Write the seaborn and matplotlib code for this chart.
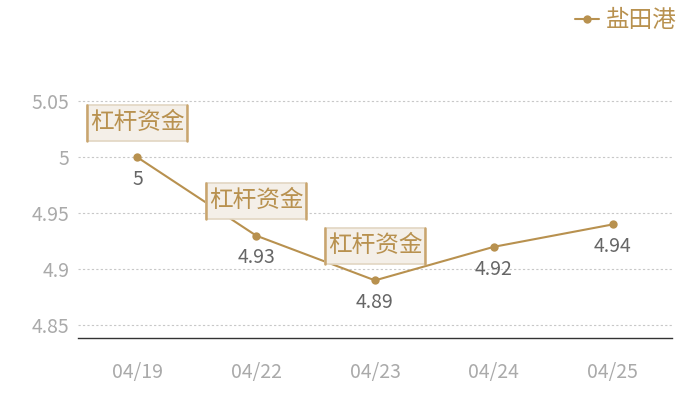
import matplotlib
matplotlib.use("Agg")
import matplotlib.pyplot as plt
import seaborn as sns
import pandas as pd

dates = ["04/19", "04/22", "04/23", "04/24", "04/25"]
values = [5.0, 4.93, 4.89, 4.92, 4.94]
value_labels = ["5", "4.93", "4.89", "4.92", "4.94"]
tag_dates = ["04/19", "04/22", "04/23"]
tag_text = "杠杆资金"
series_name = "盐田港"

gold = "#b8914f"

sns.set_style("white")
plt.rcParams["font.family"] = ["Noto Sans CJK SC", "DejaVu Sans"]

df = pd.DataFrame({"date": dates, "value": values})

fig = plt.figure(figsize=(7, 4), dpi=100)
ax = fig.add_axes([78 / 700, 62 / 400, 594 / 700, 278 / 400])

sns.lineplot(data=df, x="date", y="value", ax=ax, color=gold, linewidth=1.5,
             marker="o", markersize=6, markeredgewidth=0, label=series_name,
             sort=False)

ax.set_xlim(-0.5, len(dates) - 0.5)
ax.set_ylim(4.8385, 5.087)
ax.set_yticks([4.85, 4.9, 4.95, 5.0, 5.05])
ax.set_yticklabels(["4.85", "4.9", "4.95", "5", "5.05"])
ax.yaxis.grid(True, linestyle=(0, (2, 2)), color="#c8c8c8", linewidth=0.8)
ax.xaxis.grid(False)
for s in ["top", "right", "left"]:
    ax.spines[s].set_visible(False)
ax.spines["bottom"].set_color("#333333")
ax.spines["bottom"].set_linewidth(1)
ax.tick_params(axis="both", length=0, labelsize=14, colors="#aaaaaa")
ax.tick_params(axis="y", pad=6)
ax.tick_params(axis="x", pad=17)
ax.set_xlabel("")
ax.set_ylabel("")

for i, (v, lab) in enumerate(zip(values, value_labels)):
    ax.annotate(lab, (i, v), xytext=(0, -16), textcoords="offset points",
                ha="center", va="center", fontsize=14, color="#666666")

tags = []
for d in tag_dates:
    i = dates.index(d)
    t = ax.annotate(tag_text, (i, values[i]), xytext=(0, 25), textcoords="offset points",
                    ha="center", va="center", fontsize=17, color=gold, zorder=5)
    tags.append(t)

leg = ax.legend(loc="upper right", bbox_to_anchor=(686 / 700, 400 / 400),
                bbox_transform=fig.transFigure, frameon=False, fontsize=17,
                handlelength=1.0, handletextpad=0.3, borderaxespad=0)
for t in leg.get_texts():
    t.set_color(gold)

# tag boxes: light fill, pale top/bottom, darker sides
fig.canvas.draw()
inv = fig.transFigure.inverted()
for t in tags:
    bb = t.get_window_extent()
    cx, cy = (bb.x0 + bb.x1) / 2, (bb.y0 + bb.y1) / 2
    (x0, y0), (x1, y1) = inv.transform([(cx - 50, cy - 18), (cx + 50, cy + 18)])
    fig.add_artist(plt.Rectangle((x0, y0), x1 - x0, y1 - y0, transform=fig.transFigure,
                                 facecolor="#f4efe8", edgecolor="#e2d6c2",
                                 linewidth=1.2, zorder=4))
    for xx in (x0, x1):
        fig.add_artist(plt.Line2D([xx, xx], [y0, y1], color="#c9a56e",
                                  linewidth=1.8, transform=fig.transFigure, zorder=4.5))
    t.remove()
    fig.text(cx / 700, cy / 400, tag_text, ha="center", va="center",
             fontsize=17, color=gold, zorder=6)

fig.savefig("out.png", dpi=100)
